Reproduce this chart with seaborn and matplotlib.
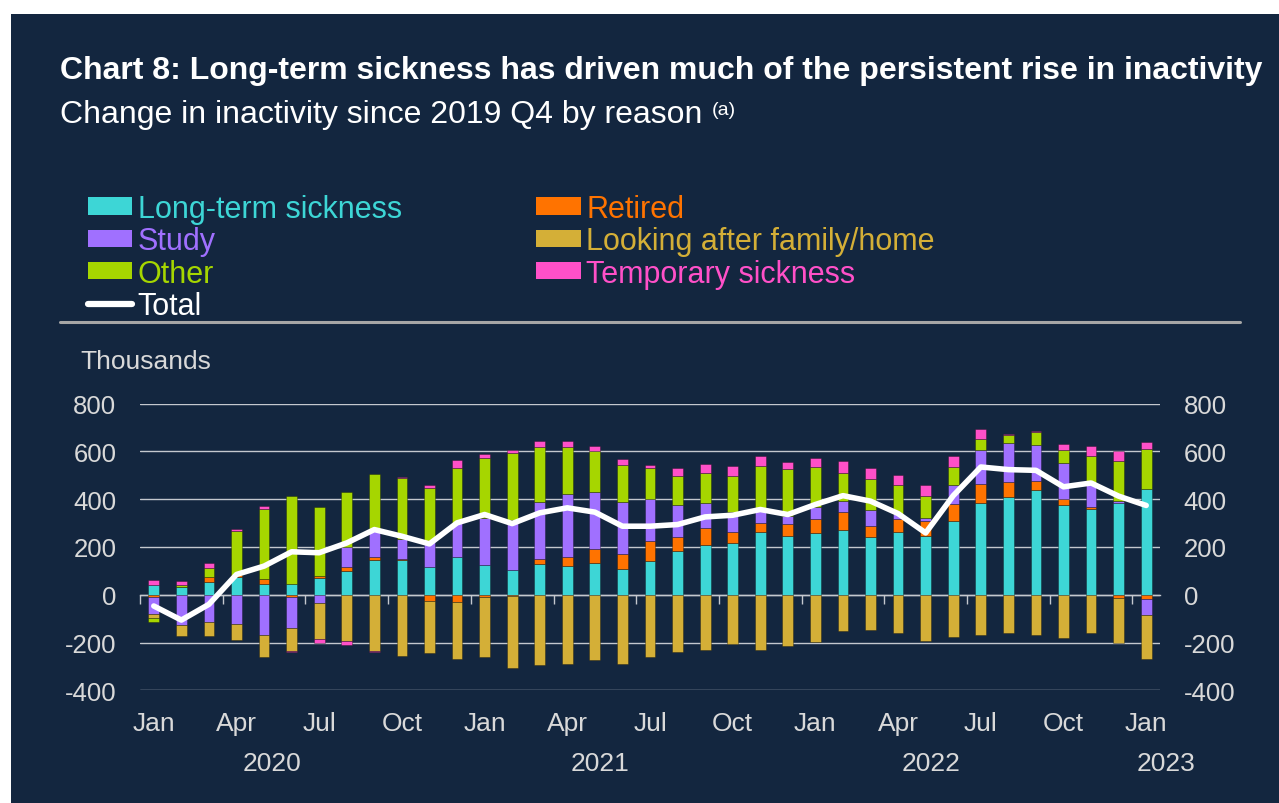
import numpy as np
import matplotlib.pyplot as plt
import matplotlib.transforms as mtransforms
from matplotlib.patches import Patch, Rectangle
from matplotlib.lines import Line2D
import seaborn as sns

# monthly, Jan 2020 .. Jan 2023 (thousands, change since 2019 Q4)
long_term = [42, 33, 52, 74, 47, 47, 70, 98, 144, 144, 116, 158,
             124, 102, 128, 120, 134, 106, 142, 184, 210, 216, 261, 248,
             258, 270, 240, 261, 244, 308, 385, 411, 440, 376, 361, 385,
             443]
retired = [-11, 0, 22, 8, 17, -11, 10, 18, 14, 4, -26, -31,
           -11, -7, 20, 38, 59, 64, 82, 59, 70, 45, 38, 50,
           59, 78, 50, 56, 63, 72, 77, 60, 36, 26, 6, -15,
           -17]
study = [-70, -125, -112, -121, -167, -130, -35, 84, 118, 84, 109, 144,
         198, 213, 241, 263, 237, 219, 177, 132, 105, 85, 51, 31,
         52, 43, 63, 20, 13, 81, 146, 164, 151, 151, 95, 7,
         -66]
family = [-17, -47, -61, -68, -95, -95, -151, -195, -236, -256, -217, -240,
          -251, -301, -294, -290, -272, -290, -262, -240, -230, -208, -230, -216,
          -199, -153, -148, -162, -194, -176, -167, -162, -167, -180, -162, -185,
          -185]
other = [-15, 8, 40, 184, 297, 368, 286, 230, 231, 258, 224, 230,
         251, 277, 231, 199, 170, 155, 128, 124, 123, 153, 191, 197,
         167, 120, 132, 123, 92, 74, 46, 32, 53, 54, 118, 170,
         169]
temp_sick = [18, 18, 20, 10, 10, -4, -15, -17, -4, 5, 11, 31,
             17, 14, 22, 22, 21, 26, 13, 31, 40, 40, 39, 28,
             35, 50, 45, 40, 49, 46, 40, 8, 6, 24, 42, 40,
             28]
total = [-47, -106, -40, 85, 120, 180, 176, 217, 273, 245, 213, 301,
         336, 298, 343, 364, 346, 287, 287, 294, 326, 333, 357, 336,
         378, 415, 392, 340, 259, 415, 535, 524, 521, 452, 468, 413,
         374]

month_labels = ['Jan', 'Apr', 'Jul', 'Oct'] * 3 + ['Jan']
year_labels = ['2020', '2021', '2022', '2023']
year_pos = [4.3, 16.2, 28.2, 36.7]

names = ['Long-term sickness', 'Retired', 'Study',
         'Looking after family/home', 'Other', 'Temporary sickness']
colors = ['#3DD6D6', '#FF7300', '#A070FF', '#D4AF37', '#A6D600', '#FF50C8']
values = [long_term, retired, study, family, other, temp_sick]

navy = '#13263F'
grid_col = '#C4C8CE'
text_col = '#D9D9D9'

sns.set_theme(style='dark')
plt.rcParams['font.family'] = ['Liberation Sans', 'DejaVu Sans']
plt.rcParams['axes.unicode_minus'] = False

W, H = 1279, 804
fig = plt.figure(figsize=(W / 100, H / 100), dpi=100, facecolor='white')
fig.add_artist(Rectangle((11 / W, 0), 1, 1 - 15 / H, transform=fig.transFigure,
                         facecolor=navy, edgecolor='none', zorder=0))

ax = fig.add_axes([140 / W, 1 - 691.3 / H, 1020 / W, 286.6 / H])
ax.set_facecolor('none')

x = np.arange(len(total))
pos_base = np.zeros(len(x))
neg_base = np.zeros(len(x))
for vals, col in zip(values, colors):
    v = np.asarray(vals, dtype=float)
    bottom = np.where(v >= 0, pos_base, neg_base)
    ax.bar(x, v, bottom=bottom, width=0.39, color=col,
           edgecolor=(0, 0, 0, 0.3), linewidth=0.7, zorder=2)
    pos_base += np.clip(v, 0, None)
    neg_base += np.clip(v, None, 0)

sns.lineplot(x=x, y=total, ax=ax, color='white', linewidth=4.0,
             solid_joinstyle='round', solid_capstyle='round', zorder=4)

ax.set_xlim(-0.5, 36.5)
ax.set_ylim(-400, 800)
ax.set_yticks(range(-400, 801, 200))
ax.yaxis.grid(True, color=grid_col, linewidth=1.0)
ax.xaxis.grid(False)
ax.set_axisbelow(True)
for s in ax.spines.values():
    s.set_visible(False)
ax.tick_params(axis='y', length=0, pad=17, labelsize=18.5, labelcolor=text_col,
               labelleft=True, labelright=True)
ax.set_xticks(range(0, 37, 3))
ax.set_xticklabels(month_labels)
ax.tick_params(axis='x', length=0, pad=15, labelsize=19, labelcolor=text_col)
ax.set_xlabel('')
ax.set_ylabel('')

# axis line with quarter ticks at zero
sec = ax.secondary_xaxis(400 / 1200)
sec.set_xticks(np.arange(-0.5, 36, 3))
sec.tick_params(axis='x', length=6.5, width=1.0, color=grid_col,
                labelbottom=False, labeltop=False)
for s in sec.spines.values():
    s.set_visible(False)
sec.spines['bottom'].set_visible(True)
sec.spines['bottom'].set_color(grid_col)
sec.spines['bottom'].set_linewidth(1.0)

ytrans = mtransforms.blended_transform_factory(ax.transData, fig.transFigure)
for lab, xp in zip(year_labels, year_pos):
    ax.text(xp, 1 - 771 / H, lab, transform=ytrans, ha='center', va='baseline',
            fontsize=19, color=text_col)

fig.text(80 / W, 1 - 362 / H, 'Thousands', ha='left', va='center',
         fontsize=19, color=text_col)

fig.text(60 / W, 1 - 79 / H,
         'Chart 8: Long-term sickness has driven much of the persistent rise in inactivity',
         ha='left', va='baseline', fontsize=23, fontweight='bold', color='white')
fig.text(60 / W, 1 - 123 / H, 'Change in inactivity since 2019 Q4 by reason',
         ha='left', va='baseline', fontsize=23, color='white')
fig.text(712 / W, 1 - 115 / H, '(a)', ha='left', va='baseline',
         fontsize=14, color='white')

fig.add_artist(Line2D([60 / W, 1240 / W], [1 - 323 / H] * 2, transform=fig.transFigure,
                      color='#A6A6A6', linewidth=2.2))

patch = {n: Patch(facecolor=c, edgecolor='none') for n, c in zip(names, colors)}
tot_handle = Line2D([0], [0], color='white', linewidth=4.5, solid_capstyle='round')
handles = [patch['Long-term sickness'], patch['Study'], patch['Other'], tot_handle,
           patch['Retired'], patch['Looking after family/home'], patch['Temporary sickness']]
labels = ['Long-term sickness', 'Study', 'Other', 'Total',
          'Retired', 'Looking after family/home', 'Temporary sickness']
lab_cols = [colors[0], colors[2], colors[4], 'white', colors[1], colors[3], colors[5]]
fig.legend(handles, labels, loc='upper left', bbox_to_anchor=(88 / W, 1 - 195 / H),
           bbox_transform=fig.transFigure, ncol=2, frameon=False, fontsize=22,
           labelcolor=lab_cols, borderpad=0, borderaxespad=0, labelspacing=0.075,
           handlelength=1.45, handleheight=0.5, handletextpad=0.18, columnspacing=4.4)

fig.savefig('out.png', dpi=100, facecolor='white')
